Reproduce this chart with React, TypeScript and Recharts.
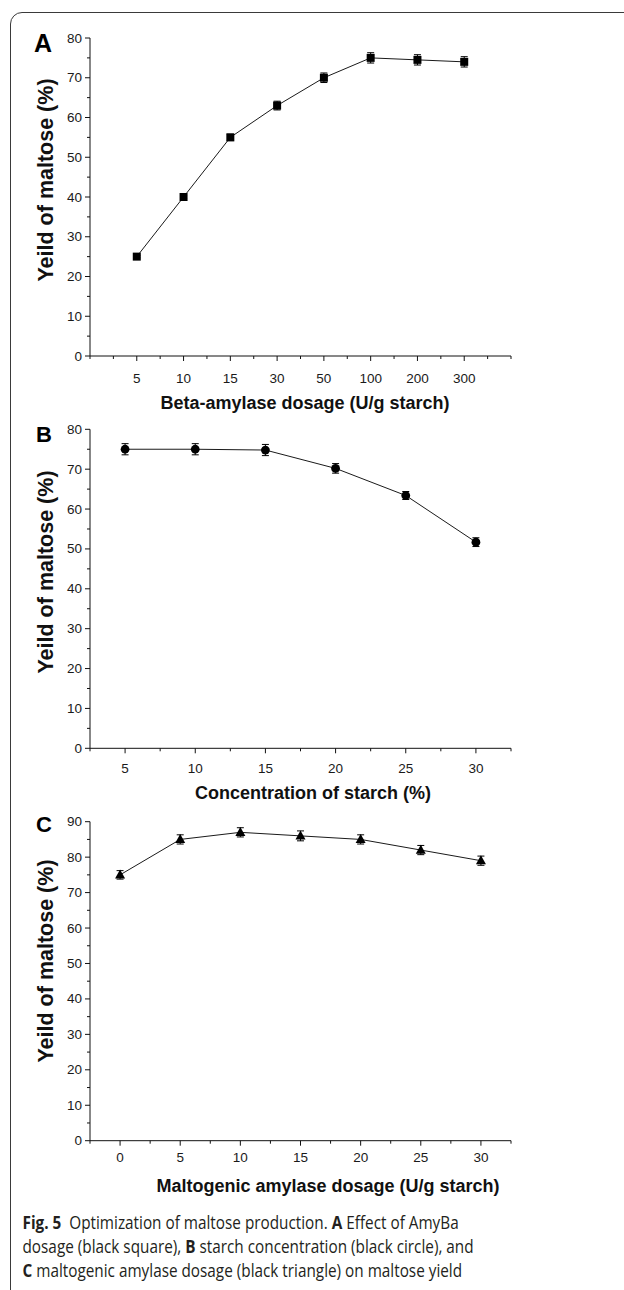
import React from 'react';
import { LineChart, Line, XAxis, YAxis, ErrorBar } from 'recharts';

// ---- Panel A: Beta-amylase dosage ----
const dosageLabelsA = ['5', '10', '15', '30', '50', '100', '200', '300'];
const yieldA = [25, 40, 55, 63, 70, 75, 74.5, 74];
const errA = [0.3, 0.4, 0.8, 1.1, 1.2, 1.3, 1.3, 1.3];

// ---- Panel B: starch concentration ----
const starchConc = [5, 10, 15, 20, 25, 30];
const yieldB = [75, 75, 74.8, 70.2, 63.4, 51.7];
const errB = [1.4, 1.4, 1.4, 1.2, 1.0, 1.1];

// ---- Panel C: maltogenic amylase dosage ----
const maltoDose = [0, 5, 10, 15, 20, 25, 30];
const yieldC = [75, 85, 87, 86, 85, 82, 79];
const errC = [1.2, 1.3, 1.3, 1.4, 1.3, 1.3, 1.3];

// ---- ticks ----
const xTicksA = [0, 0.5, 1, 1.5, 2, 2.5, 3, 3.5, 4, 4.5, 5, 5.5, 6, 6.5, 7, 7.5, 8, 8.5, 9];
const xTicksB = [2.5, 5, 7.5, 10, 12.5, 15, 17.5, 20, 22.5, 25, 27.5, 30, 32.5];
const xTicksC = [-2.5, 0, 2.5, 5, 7.5, 10, 12.5, 15, 17.5, 20, 22.5, 25, 27.5, 30, 32.5];
const yTicksAB = [0, 5, 10, 15, 20, 25, 30, 35, 40, 45, 50, 55, 60, 65, 70, 75, 80];
const yTicksC = [0, 5, 10, 15, 20, 25, 30, 35, 40, 45, 50, 55, 60, 65, 70, 75, 80, 85, 90];

const dataA = dosageLabelsA.map((label, i) => ({ pos: i + 1, label, y: yieldA[i], err: errA[i] }));
const dataB = starchConc.map((x, i) => ({ x, y: yieldB[i], err: errB[i] }));
const dataC = maltoDose.map((x, i) => ({ x, y: yieldC[i], err: errC[i] }));

const TICK_FONT = '"Liberation Sans", Arial, sans-serif';
const INK = '#111';

const makeXTick = (isMajor: (v: number) => boolean, fmt: (v: number) => string, dy: number) =>
  (props: any) => {
    const { x, y, payload } = props;
    const v = payload.value;
    const major = isMajor(v);
    return (
      <g>
        <line x1={x} x2={x} y1={y} y2={y + (major ? 5 : 3)} stroke={INK} strokeWidth={1} />
        {major && (
          <text x={x} y={y + dy} textAnchor="middle" dominantBaseline="central"
            fontSize={13.5} fontFamily={TICK_FONT} fill="#1a1a1a">{fmt(v)}</text>
        )}
      </g>
    );
  };

const YTick = (props: any) => {
  const { x, y, payload } = props;
  const v = payload.value;
  const major = v % 10 === 0;
  return (
    <g>
      <line x1={x} x2={x - (major ? 5 : 3)} y1={y} y2={y} stroke={INK} strokeWidth={1} />
      {major && (
        <text x={x - 8} y={y} textAnchor="end" dominantBaseline="central"
          fontSize={13.5} fontFamily={TICK_FONT} fill="#1a1a1a">{v}</text>
      )}
    </g>
  );
};

const SquareDot = (props: any) => {
  const { cx, cy, index } = props;
  return <rect key={`sq${index}`} x={cx - 4} y={cy - 4} width={8} height={8} fill="#000" />;
};
const CircleDot = (props: any) => {
  const { cx, cy, index } = props;
  return <circle key={`ci${index}`} cx={cx} cy={cy} r={4.4} fill="#000" />;
};
const TriDot = (props: any) => {
  const { cx, cy, index } = props;
  return (
    <polygon key={`tr${index}`}
      points={`${cx},${cy - 5.4} ${cx - 5},${cy + 3.6} ${cx + 5},${cy + 3.6}`} fill="#000" />
  );
};

const isInt = (v: number) => Number.isInteger(v) && v >= 1 && v <= 8;
const isFive = (v: number) => v % 5 === 0 && v >= 0 && v <= 30;

const axisLine = { stroke: INK, strokeWidth: 1 };

const Panel = ({ top, height, marginTop, xHeight, data, xKey, xDomain, xTicks, xTick, yDomain, yTicks, dot }: any) => (
  <div style={{ position: 'absolute', left: 0, top }}>
    <LineChart width={624} height={height} data={data}
      margin={{ top: marginTop, right: 113, bottom: 0, left: 0 }}>
      <XAxis type="number" dataKey={xKey} domain={xDomain} ticks={xTicks} interval={0}
        axisLine={axisLine} tickLine={false} tickSize={0} tickMargin={0} height={xHeight}
        tick={xTick} allowDataOverflow />
      <YAxis type="number" domain={yDomain} ticks={yTicks} interval={0} width={90}
        axisLine={axisLine} tickLine={false} tickSize={0} tickMargin={0} tick={YTick} />
      <Line type="linear" dataKey="y" stroke="#1a1a1a" strokeWidth={1} dot={dot}
        activeDot={false} isAnimationActive={false}>
        <ErrorBar dataKey="err" width={3.5} stroke="#000" strokeWidth={1} direction="y" />
      </Line>
    </LineChart>
  </div>
);

const TITLE_FONT = '"Liberation Sans", Arial, sans-serif';
const CAP_FONT = '"Open Sans", "Noto Sans", sans-serif';

const YTitle = ({ cy }: { cy: number }) => (
  <text transform={`translate(53, ${cy}) rotate(-90)`} textAnchor="middle"
    fontSize={21.5} fontWeight="bold" fontFamily={TITLE_FONT} fill="#111">Yeild of maltose (%)</text>
);

const CapLine = ({ y, children }: any) => (
  <g transform={`translate(22.5, ${y}) scale(0.875, 1)`}>
    <text x={0} y={0} fontSize={17.5} fontFamily={CAP_FONT} fill="#231f20">{children}</text>
  </g>
);

export default function App() {
  return (
    <div style={{ position: 'absolute', left: 0, top: 0, width: 624, height: 1290, overflow: 'hidden', background: '#fff' }}>
      <div style={{
        position: 'absolute', left: 9.5, top: 12, width: 720, height: 1400,
        border: '1px solid #3a3a3a', borderRadius: 12, boxSizing: 'border-box',
      }} />
      <Panel top={0} height={420} marginTop={38} xHeight={64} data={dataA} xKey="pos"
        xDomain={[0, 9]} xTicks={xTicksA}
        xTick={makeXTick(isInt, (v) => dosageLabelsA[v - 1], 22)}
        yDomain={[0, 80]} yTicks={yTicksAB} dot={SquareDot} />
      <Panel top={415} height={400} marginTop={14.3} xHeight={66.7} data={dataB} xKey="x"
        xDomain={[2.5, 32.5]} xTicks={xTicksB}
        xTick={makeXTick(isFive, (v) => String(v), 20)}
        yDomain={[0, 80]} yTicks={yTicksAB} dot={CircleDot} />
      <Panel top={808} height={400} marginTop={13.7} xHeight={67.3} data={dataC} xKey="x"
        xDomain={[-2.5, 32.5]} xTicks={xTicksC}
        xTick={makeXTick(isFive, (v) => String(v), 17)}
        yDomain={[0, 90]} yTicks={yTicksC} dot={TriDot} />
      <svg width={624} height={1290} style={{ position: 'absolute', left: 0, top: 0, pointerEvents: 'none' }}>
        <text x={43} y={43} textAnchor="middle" dominantBaseline="central" fontSize={25} fontWeight="bold" fontFamily={TITLE_FONT} fill="#000">A</text>
        <text x={44} y={434} textAnchor="middle" dominantBaseline="central" fontSize={22} fontWeight="bold" fontFamily={TITLE_FONT} fill="#000">B</text>
        <text x={44} y={824} textAnchor="middle" dominantBaseline="central" fontSize={22} fontWeight="bold" fontFamily={TITLE_FONT} fill="#000">C</text>

        <YTitle cy={180} />
        <YTitle cy={572} />
        <YTitle cy={961} />

        <text x={305} y={403} textAnchor="middle" dominantBaseline="central" fontSize={18} fontWeight="bold" fontFamily={TITLE_FONT} fill="#111">Beta-amylase dosage (U/g starch)</text>
        <text x={313} y={793} textAnchor="middle" dominantBaseline="central" fontSize={18} fontWeight="bold" fontFamily={TITLE_FONT} fill="#111">Concentration of starch (%)</text>
        <text x={328} y={1186} textAnchor="middle" dominantBaseline="central" fontSize={18} fontWeight="bold" fontFamily={TITLE_FONT} fill="#111">Maltogenic amylase dosage (U/g starch)</text>

        <CapLine y={1229}>
          <tspan fontWeight="bold">Fig. 5</tspan>{'\u00a0\u00a0Optimization of maltose production. '}<tspan fontWeight="bold">A</tspan>{' Effect of AmyBa'}
        </CapLine>
        <CapLine y={1252.7}>
          {'dosage (black square), '}<tspan fontWeight="bold">B</tspan>{' starch concentration (black circle), and'}
        </CapLine>
        <CapLine y={1276.5}>
          <tspan fontWeight="bold">C</tspan>{' maltogenic amylase dosage (black triangle) on maltose yield'}
        </CapLine>
      </svg>
    </div>
  );
}
